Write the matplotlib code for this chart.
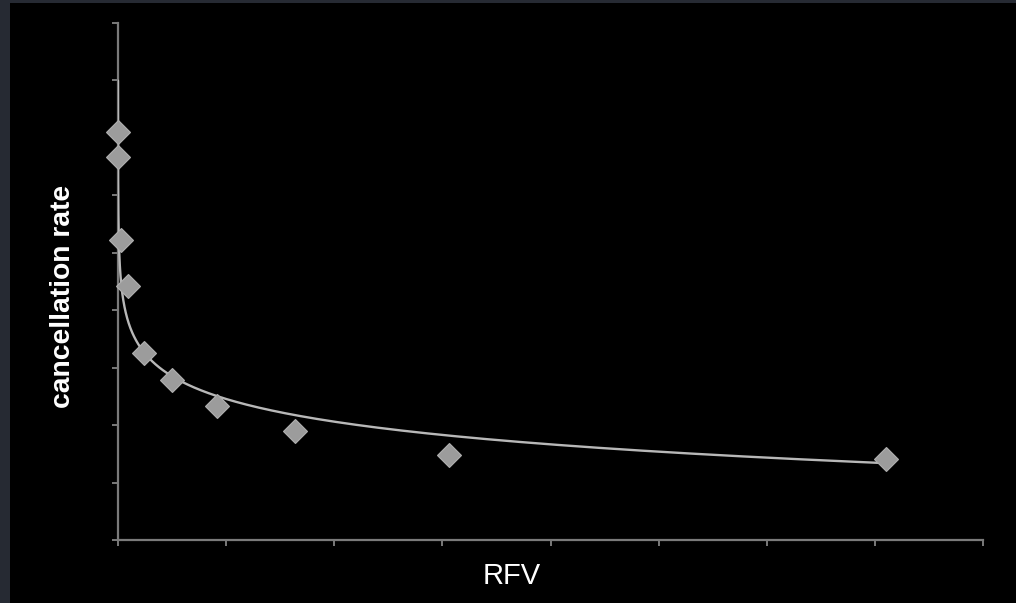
import numpy as np
import matplotlib
matplotlib.use("Agg")
import matplotlib.pyplot as plt
from matplotlib.patches import Rectangle

# data (RFV vs cancellation rate, %)
rfv = [0, 0, 2.8, 9.2, 24, 50, 91.6, 163.7, 306, 710]
cancel_rate = [35.5, 33.3, 26.1, 22.1, 16.3, 13.9, 11.7, 9.5, 7.4, 7.05]
# logarithmic trendline y = a - b*ln(x)
trend_a = 25.4
trend_b = 2.85
trend_x_range = [0.006, 710]
x_ticks = [0, 100, 200, 300, 400, 500, 600, 700, 800]
y_ticks = [0, 5, 10, 15, 20, 25, 30, 35, 40, 45]

fig = plt.figure(figsize=(10.16, 6.03), dpi=100)
fig.patch.set_facecolor("black")
# dark frame strips
fig.patches.append(Rectangle((0, 0), 10 / 1016, 1, transform=fig.transFigure,
                             facecolor="#262a33", edgecolor="none", zorder=0))
fig.patches.append(Rectangle((0, 1 - 2.5 / 603), 1, 2.5 / 603, transform=fig.transFigure,
                             facecolor="#262a33", edgecolor="none", zorder=0))

ax = fig.add_axes([118 / 1016, 1 - 540 / 603, (983 - 118) / 1016, (540 - 23) / 603])
ax.set_facecolor("black")

tx = np.geomspace(trend_x_range[0], trend_x_range[1], 400)
ty = trend_a - trend_b * np.log(tx)
ax.plot(tx, ty, color="#b8b8b8", lw=1.7, zorder=3, solid_capstyle="round")
ax.plot(rfv, cancel_rate, linestyle="none", marker="D", markersize=12,
        markerfacecolor="#9c9c9c", markeredgecolor="#b0b0b0", markeredgewidth=0.8,
        zorder=4, clip_on=False)

ax.set_xlim(x_ticks[0], x_ticks[-1])
ax.set_ylim(y_ticks[0], y_ticks[-1])
ax.set_xticks(x_ticks)
ax.set_yticks(y_ticks)
ax.set_xticklabels([])
ax.set_yticklabels([])
for s in ["top", "right"]:
    ax.spines[s].set_visible(False)
for s in ["left", "bottom"]:
    ax.spines[s].set_color("#7a7a7a")
    ax.spines[s].set_linewidth(1.6)
ax.tick_params(axis="both", direction="out", color="#7a7a7a", width=1.4, length=4.5)

fig.text(63 / 1016, 1 - 296 / 603, "cancellation rate", rotation=90,
         ha="center", va="center", color="white", fontsize=20.3,
         fontweight="bold", family="Liberation Sans")
fig.text(512 / 1016, 1 - 576 / 603, "RFV", ha="center", va="center",
         color="white", fontsize=21, family="Liberation Sans")

fig.savefig("out.png", dpi=100, facecolor=fig.get_facecolor())
